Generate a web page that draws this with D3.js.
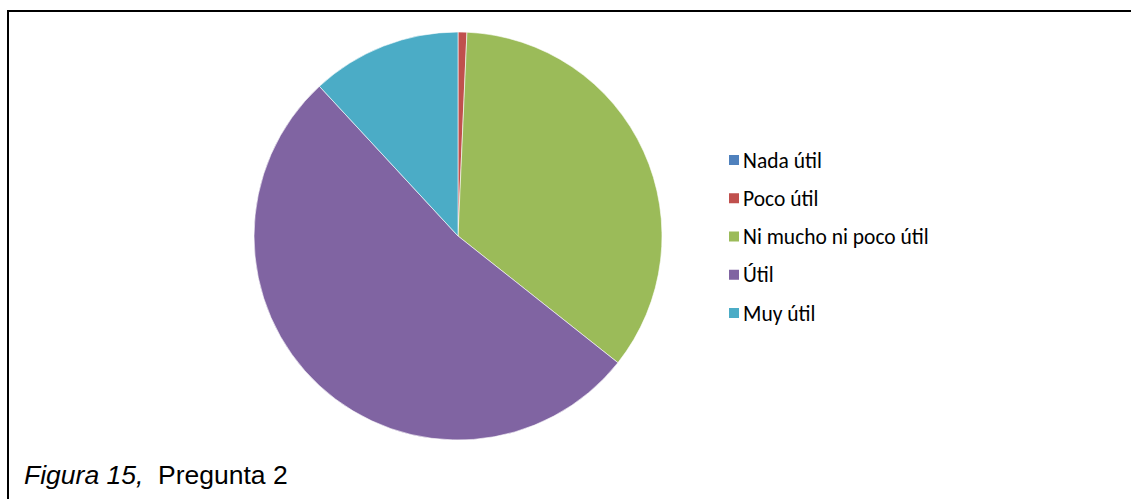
<!DOCTYPE html>
<html>
<head>
<meta charset="utf-8">
<script src="https://cdn.jsdelivr.net/npm/d3@7"></script>
<style>
  html, body { margin: 0; padding: 0; background: #fff; }
  svg { display: block; }
</style>
</head>
<body>
<svg id="chart" width="1131" height="499"></svg>
<script>
// Survey answers: "Pregunta 2"
const categories = ["Nada útil", "Poco útil", "Ni mucho ni poco útil", "Útil", "Muy útil"];
const counts = [0, 1, 50, 75, 17];
const palette = ["#4F81BD", "#C0504D", "#9BBB59", "#8064A2", "#4BACC6"];

const svg = d3.select("#chart");
const W = 1131, H = 499;

// frame (top and left rules)
svg.append("line").attr("x1", 7).attr("y1", 11).attr("x2", W).attr("y2", 11)
  .attr("stroke", "#000").attr("stroke-width", 2);
svg.append("line").attr("x1", 8).attr("y1", 10).attr("x2", 8).attr("y2", H)
  .attr("stroke", "#000").attr("stroke-width", 2);

const color = d3.scaleOrdinal().domain(categories).range(palette);

const cx = 458, cy = 236, r = 204;
const pie = d3.pie().sort(null).value(d => d.value);
const arc = d3.arc().innerRadius(0).outerRadius(r);
const data = categories.map((c, i) => ({ name: c, value: counts[i] }));

const g = svg.append("g").attr("transform", `translate(${cx},${cy})`);
g.selectAll("path")
  .data(pie(data).filter(d => d.data.value > 0))
  .join("path")
  .attr("d", arc)
  .attr("fill", d => color(d.data.name))
  .attr("stroke", "#fff")
  .attr("stroke-width", 0.6);

// legend
const legendY = d3.scalePoint().domain(categories).range([160, 313]);
const lg = svg.append("g");
const items = lg.selectAll("g").data(categories).join("g")
  .attr("transform", d => `translate(729,${legendY(d)})`);
items.append("rect")
  .attr("x", 0).attr("y", -5).attr("width", 10).attr("height", 10)
  .attr("fill", d => color(d));
items.append("text")
  .attr("x", 14).attr("y", 0).attr("dy", "0.35em")
  .attr("font-family", "Carlito, Lato, 'Open Sans', sans-serif")
  .attr("font-size", 21.5)
  .attr("fill", "#000")
  .text(d => d);

// caption
const cap = svg.append("text")
  .attr("x", 24).attr("y", 484)
  .attr("font-family", "'Liberation Sans', Arial, sans-serif")
  .attr("font-size", 26.5)
  .attr("fill", "#000");
cap.append("tspan").attr("font-style", "italic").text("Figura 15,");
cap.append("tspan").attr("xml:space", "preserve").text("  Pregunta 2");
</script>
</body>
</html>
